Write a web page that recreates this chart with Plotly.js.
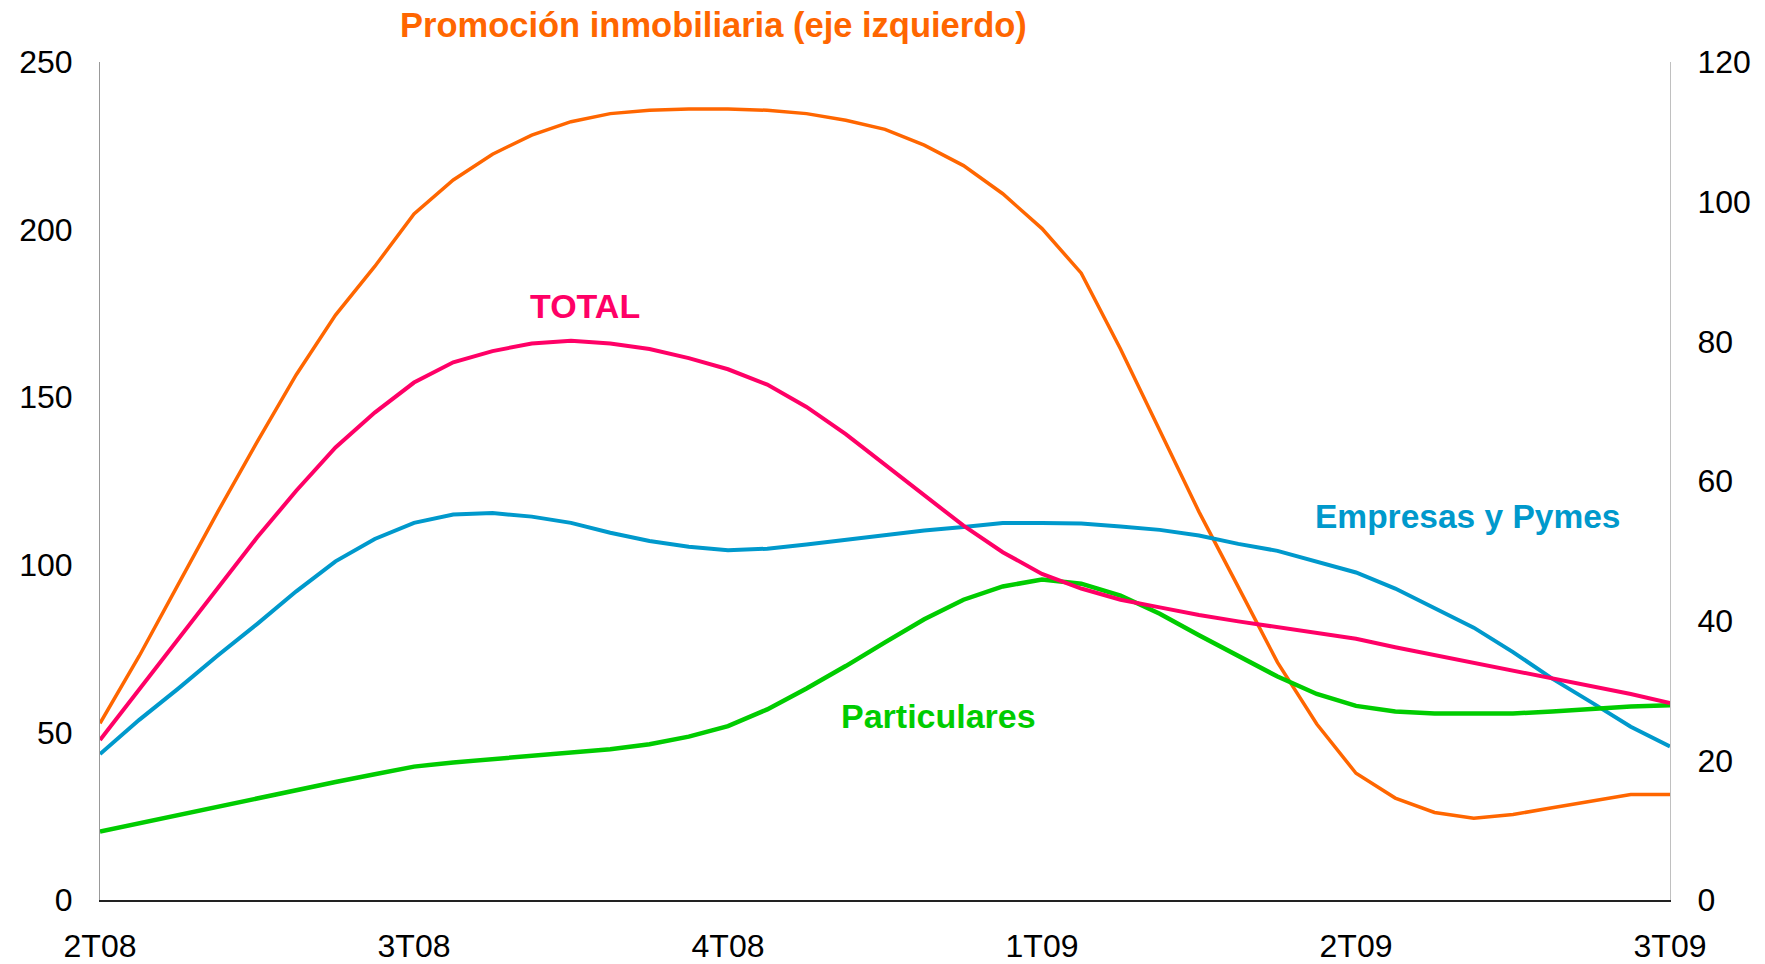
<!DOCTYPE html>
<html>
<head>
<meta charset="utf-8">
<script src="https://cdn.plot.ly/plotly-3.0.1.min.js"></script>
<style>html,body{margin:0;padding:0;background:#fff;}#chart{width:1765px;height:964px;}</style>
</head>
<body>
<div id="chart"></div>
<script>
// Period positions (quarter index, 8 readings per quarter)
const periods = [0,0.125,0.25,0.375,0.5,0.625,0.75,0.875,1,1.125,1.25,1.375,1.5,1.625,1.75,1.875,2,2.125,2.25,2.375,2.5,2.625,2.75,2.875,3,3.125,3.25,3.375,3.5,3.625,3.75,3.875,4,4.125,4.25,4.375,4.5,4.625,4.75,4.875,5];
const tickPositions = [0,1,2,3,4,5];
const tickLabels = ["2T08","3T08","4T08","1T09","2T09","3T09"];

// Left axis
const promocion = [52.7,72.8,94.3,115.8,136.6,156.7,174.5,189,204.7,214.8,222.5,228.2,232.2,234.6,235.6,236,236,235.6,234.6,232.6,229.9,225.2,219.1,210.7,200.3,187,164.4,140,115.8,93.4,70.9,52.5,37.8,30.4,26.1,24.4,25.5,27.5,29.6,31.5,31.5];
// Right axis
const total = [22.9,30.1,37.4,44.6,51.9,58.6,64.8,69.8,74.1,77.0,78.6,79.7,80.1,79.7,78.9,77.6,76.0,73.8,70.6,66.7,62.3,58.0,53.6,49.8,46.7,44.6,43.0,41.9,40.8,39.9,39.1,38.3,37.4,36.2,35.1,34.0,32.9,31.7,30.6,29.5,28.2];
const empresas = [20.9,25.8,30.3,35.0,39.5,44.2,48.5,51.7,54.0,55.2,55.4,54.9,54.0,52.6,51.4,50.6,50.1,50.3,50.9,51.6,52.3,52.9,53.4,54.0,54.0,53.9,53.5,53.0,52.2,51.0,50.0,48.5,46.9,44.6,41.8,39.0,35.5,31.7,28.3,24.8,22.0];
const particulares = [9.8,11.0,12.2,13.3,14.5,15.7,16.9,18.0,19.1,19.7,20.2,20.6,21.1,21.6,22.3,23.4,24.9,27.3,30.3,33.5,36.9,40.2,43.0,44.9,45.9,45.3,43.6,41.0,37.9,34.9,32.0,29.5,27.8,27.0,26.7,26.7,26.7,27.0,27.4,27.7,27.9];

const FONT = "Liberation Sans, Arial, sans-serif";
const C_OR = "#FF6600", C_PK = "#FF0066", C_BL = "#0099CC", C_GR = "#00CC00";

const traces = [
  {x: periods, y: promocion, type: "scatter", mode: "lines", name: "Promoción inmobiliaria", line: {color: C_OR, width: 3.5}, yaxis: "y"},
  {x: periods, y: empresas, type: "scatter", mode: "lines", name: "Empresas y Pymes", line: {color: C_BL, width: 4}, yaxis: "y2"},
  {x: periods, y: particulares, type: "scatter", mode: "lines", name: "Particulares", line: {color: C_GR, width: 4.5}, yaxis: "y2"},
  {x: periods, y: total, type: "scatter", mode: "lines", name: "TOTAL", line: {color: C_PK, width: 4}, yaxis: "y2"}
];

const layout = {
  width: 1765, height: 964,
  margin: {l: 100, r: 95, t: 62, b: 64},
  paper_bgcolor: "#fff", plot_bgcolor: "#fff",
  showlegend: false,
  font: {family: FONT, color: "#000", size: 32},
  xaxis: {
    range: [0, 5], tickvals: tickPositions, ticktext: tickLabels,
    showgrid: false, zeroline: false, showline: true, linecolor: "#222", linewidth: 2,
    ticks: "", ticklabelstandoff: 17, tickfont: {size: 32, family: FONT, color: "#000"}
  },
  yaxis: {
    range: [0, 250], dtick: 50, tick0: 0,
    showgrid: false, zeroline: false, showline: true, linecolor: "#999", linewidth: 1,
    ticks: "", ticklabelstandoff: 20, tickfont: {size: 32, family: FONT, color: "#000"}
  },
  yaxis2: {
    range: [0, 120], dtick: 20, tick0: 0, overlaying: "y", side: "right",
    showgrid: false, zeroline: false, showline: true, linecolor: "#c0c0c0", linewidth: 1,
    ticks: "", ticklabelstandoff: 20, tickfont: {size: 32, family: FONT, color: "#000"}
  },
  annotations: [
    {text: "<b>Promoción inmobiliaria (eje izquierdo)</b>", xref: "paper", yref: "paper", x: 0.391, y: 1.044, xanchor: "center", yanchor: "middle", showarrow: false, font: {size: 34.5, color: C_OR, family: FONT}},
    {text: "<b>TOTAL</b>", xref: "x", yref: "y", x: 1.546, y: 177.2, xanchor: "center", yanchor: "middle", showarrow: false, font: {size: 34, color: C_PK, family: FONT}},
    {text: "<b>Empresas y Pymes</b>", xref: "x", yref: "y", x: 4.354, y: 114.3, xanchor: "center", yanchor: "middle", showarrow: false, font: {size: 33.5, color: C_BL, family: FONT}},
    {text: "<b>Particulares</b>", xref: "x", yref: "y", x: 2.670, y: 54.9, xanchor: "center", yanchor: "middle", showarrow: false, font: {size: 34, color: C_GR, family: FONT}}
  ]
};

Plotly.newPlot("chart", traces, layout, {displayModeBar: false, staticPlot: true});
</script>
</body>
</html>
